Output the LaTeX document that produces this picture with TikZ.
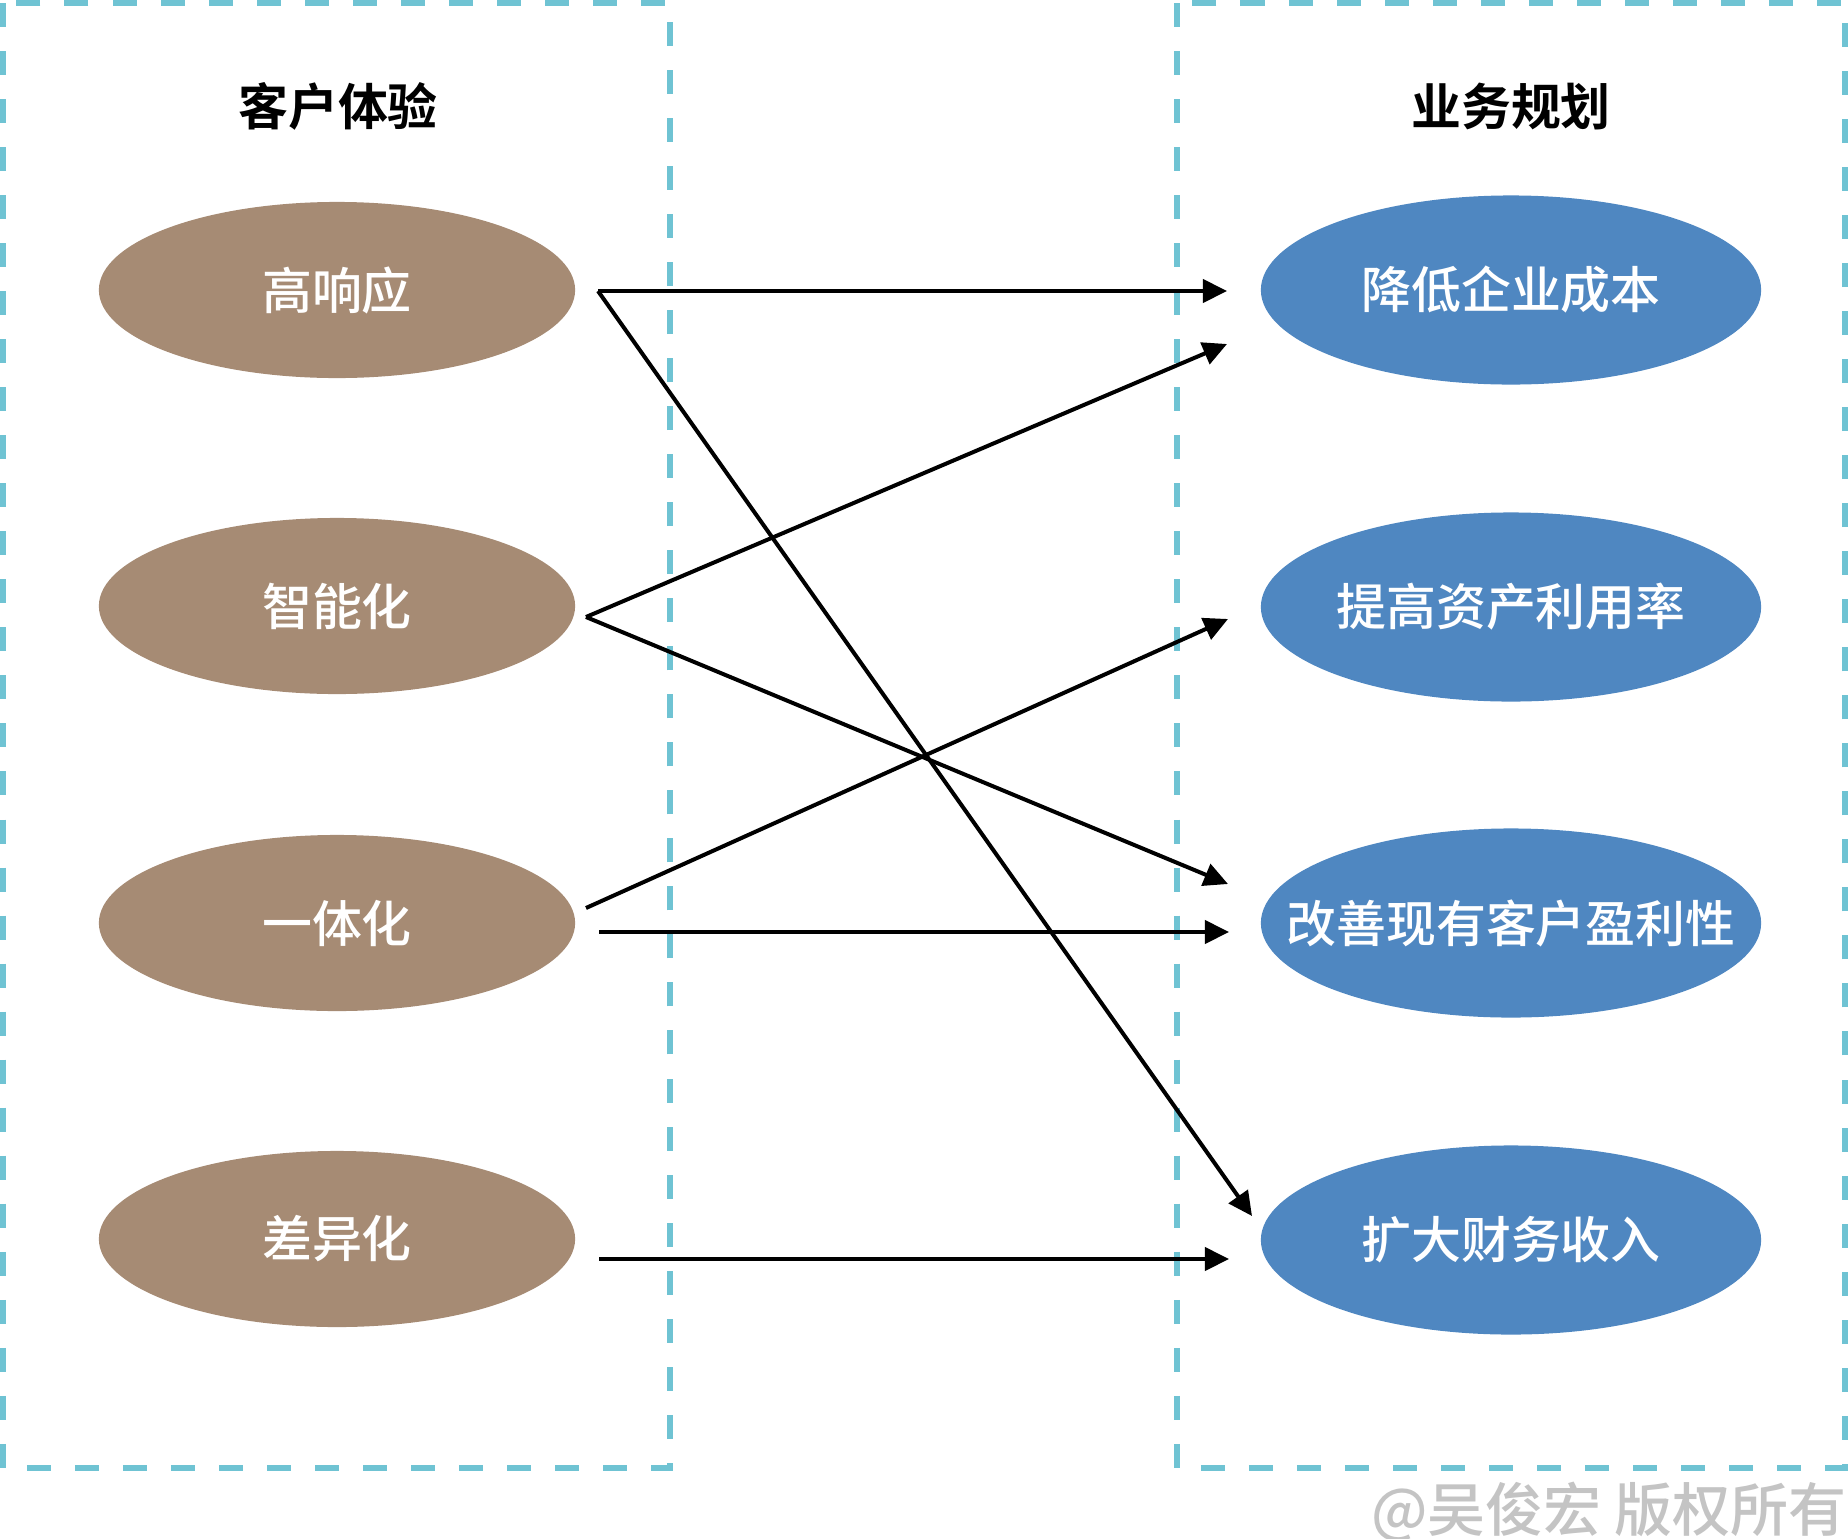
\documentclass[tikz,border=0pt]{standalone}
\usepackage{fontspec}
\setmainfont{Noto Sans CJK SC}[BoldFont={* Medium}]
\newfontfamily\heavyfont{Noto Sans CJK SC Bold}
\usetikzlibrary{arrows.meta, shapes.geometric}
\definecolor{cbrown}{HTML}{A68B74}
\definecolor{cblue}{HTML}{4F87C1}
\definecolor{cframe}{HTML}{6FC3D3}
\definecolor{cmark}{HTML}{C4C4C4}
\tikzset{
  frame/.style={draw=cframe, line width=0.06cm, dash pattern=on 0.24cm off 0.24cm},
  head/.style={font=\fontsize{14.2}{17}\selectfont\heavyfont, text=black},
  oval/.style={ellipse, fill=#1, inner xsep=-1cm, inner ysep=0pt, text=white, font=\fontsize{14.2}{17}\selectfont\bfseries},
  oval/.default=cbrown,
  arrow/.style={-{Triangle[length=0.24cm, width=0.23cm]}, draw=black, line width=0.04cm},
}

\begin{document}
\begin{tikzpicture}[x=0.01cm, y=-0.01cm]
  \useasboundingbox (0,0) rectangle (1848,1539);
  % frames
  \draw[frame] (3,3) rectangle (670,1468);
  \draw[frame] (1177,3) rectangle (1845,1468);
  \node[head] (cx) at (338,106) {客户体验};
  \node[head] (biz) at (1511,106) {业务规划};
  % left column
  \tikzset{lo/.style={oval=cbrown, minimum width=4.76cm, minimum height=1.76cm},
           ro/.style={oval=cblue, minimum width=5.0cm, minimum height=1.89cm}}
  \node[lo] (resp) at (337,290) {高响应};
  \node[lo] (smart) at (337,606) {智能化};
  \node[lo] (integ) at (337,923) {一体化};
  \node[lo] (diff) at (337,1239) {差异化};
  % right column
  \node[ro] (cost) at (1511,290) {降低企业成本};
  \node[ro] (asset) at (1511,607) {提高资产利用率};
  \node[ro] (profit) at (1511,923) {改善现有客户盈利性};
  \node[ro] (revenue) at (1511,1240) {扩大财务收入};
  % connector ends
  \coordinate (resp-out) at (598,291);
  \coordinate (smart-out) at (586,617);
  \coordinate (integ-up) at (586,908);
  \coordinate (integ-out) at (599,932);
  \coordinate (diff-out) at (599,1259);
  \coordinate (cost-a) at (1227,291);
  \coordinate (cost-b) at (1227,344);
  \coordinate (asset-a) at (1228,619);
  \coordinate (profit-a) at (1228,884);
  \coordinate (profit-b) at (1229,932);
  \coordinate (revenue-a) at (1252,1216);
  \coordinate (revenue-b) at (1229,1259);
  \draw[arrow] (resp-out) -- (cost-a);
  \draw[arrow] (resp-out) -- (revenue-a);
  \draw[arrow] (smart-out) -- (cost-b);
  \draw[arrow] (smart-out) -- (profit-a);
  \draw[arrow] (integ-up) -- (asset-a);
  \draw[arrow] (integ-out) -- (profit-b);
  \draw[arrow] (diff-out) -- (revenue-b);
  % watermark
  \node[text=cmark, font=\fontsize{16.5}{20}\selectfont\bfseries] (mark) at (1609,1512) {@吴俊宏 版权所有};
\end{tikzpicture}
\end{document}
